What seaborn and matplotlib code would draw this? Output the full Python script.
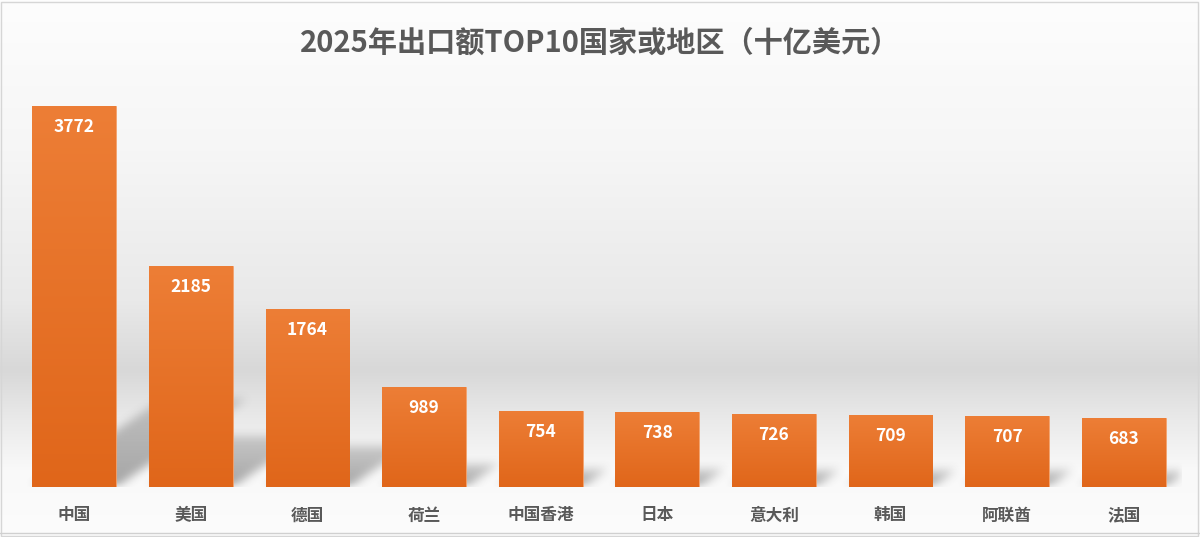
import numpy as np
import pandas as pd
import matplotlib
matplotlib.use("Agg")
import matplotlib.pyplot as plt
import seaborn as sns
from matplotlib.patches import Rectangle

countries = ['中国', '美国', '德国', '荷兰', '中国香港', '日本', '意大利', '韩国', '阿联酋', '法国']
exports = [3772, 2185, 1764, 989, 754, 738, 726, 709, 707, 683]
title = '2025年出口额TOP10国家或地区（十亿美元）'

df = pd.DataFrame({'country': countries, 'value': exports})

sns.set_style('white')
plt.rcParams['font.family'] = ['Noto Sans CJK SC', 'DejaVu Sans']

fig = plt.figure(figsize=(12, 5.37), dpi=100)

# background gradient (white -> grey band -> white)
bg = fig.add_axes([0, 0, 1, 1], zorder=0)
ys = np.array([0, 150, 300, 370, 420, 470, 537])
gs = np.array([253, 246, 233, 216, 234, 249, 252]) / 255
col = np.interp(np.arange(537), ys, gs)
img = np.repeat(col[:, None], 2, axis=1)
bg.imshow(np.dstack([img, img, img]), aspect='auto', extent=[0, 1, 0, 1])
bg.add_patch(Rectangle((0.001, 0.002), 0.997, 0.995, fill=False, ec='#d6d6d6', lw=1))
bg.axhline(0.008, xmin=0.0, xmax=1.0, color='#d0d0d0', lw=1)
bg.set_axis_off()

AX_W, AX_H = 1166, 404
ax = fig.add_axes([16 / 1200, 50 / 537, AX_W / 1200, AX_H / 537], zorder=1)
ax.patch.set_alpha(0)

sns.barplot(data=df, x='country', y='value', color='#e8742a', width=0.72,
            saturation=1, ax=ax, zorder=3, edgecolor='#f4a36e', linewidth=0.6)
ax.set_xlim(-0.5, len(countries) - 0.5)
ax.set_ylim(0, 4000)

px_x = AX_W / len(countries)
px_y = AX_H / 4000

# soft cast shadows, rasterised then blurred
xs = np.linspace(-0.5, len(countries) - 0.5, AX_W)
yv = np.linspace(0, 4000, AX_H)
X, Y = np.meshgrid(xs, yv)
mask = np.zeros_like(X)
for i, v in enumerate(exports):
    h = v * px_y
    dx = 0.34 * h / px_x
    dy = 0.23 * v
    t = Y / dy
    inside = (t <= 1) & (X >= i - 0.36 + dx * t) & (X <= i + 0.36 + dx * t)
    mask = np.maximum(mask, inside * (1 - 0.5 * t))


def box_blur(a, r):
    k = np.ones(2 * r + 1) / (2 * r + 1)
    a = np.apply_along_axis(lambda m: np.convolve(m, k, mode='same'), 0, a)
    a = np.apply_along_axis(lambda m: np.convolve(m, k, mode='same'), 1, a)
    return a


for _ in range(3):
    mask = box_blur(mask, 4)
shadow = np.zeros((AX_H, AX_W, 4))
shadow[..., :3] = 0.3
shadow[..., 3] = np.clip(mask, 0, 1) * 0.5
ax.imshow(shadow, extent=[-0.5, len(countries) - 0.5, 0, 4000], origin='lower',
          aspect='auto', zorder=2, interpolation='bilinear')

# gradient fill on bars
grad = np.linspace(0, 1, 256)[:, None]
top = np.array([0.929, 0.494, 0.212])
bot = np.array([0.878, 0.400, 0.102])
gimg = top[None, None, :] * grad[:, :, None] + bot[None, None, :] * (1 - grad[:, :, None])
for bar in list(ax.patches):
    x0, w, h = bar.get_x(), bar.get_width(), bar.get_height()
    im = ax.imshow(gimg, extent=[x0, x0 + w, 0, h], aspect='auto', origin='lower', zorder=3.5)
    im.set_clip_path(bar)

ax.set_xlim(-0.5, len(countries) - 0.5)
ax.set_ylim(0, 4000)

for i, v in enumerate(exports):
    ax.text(i, v - 21 / px_y, str(v), ha='center', va='center', color='white',
            fontsize=12.5, fontweight='bold', zorder=5)

ax.set_xlabel('')
ax.set_ylabel('')
ax.set_yticks([])
ax.tick_params(axis='x', length=0, pad=14, labelsize=12, labelcolor='#595959')
for lab in ax.get_xticklabels():
    lab.set_fontweight('bold')
for sp in ax.spines.values():
    sp.set_visible(False)

fig.text(0.5, 1 - 43 / 537, title, ha='center', va='center', fontsize=21,
         fontweight='bold', color='#595959')

fig.savefig('out.png', dpi=100)
